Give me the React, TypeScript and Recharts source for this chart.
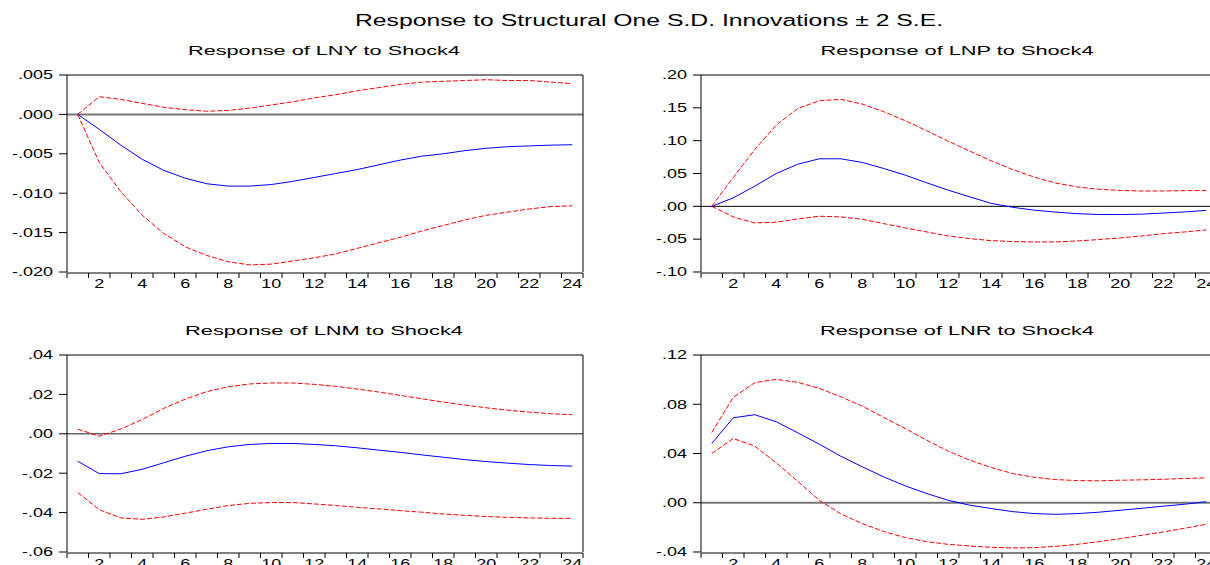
import React from 'react';
import { LineChart, Line, XAxis, YAxis, ReferenceLine } from 'recharts';

// ---------- data ----------
const periods = [1, 2, 3, 4, 5, 6, 7, 8, 9, 10, 11, 12, 13, 14, 15, 16, 17, 18, 19, 20, 21, 22, 23, 24];
const boundaryTicks = [0.5, 1.5, 2.5, 3.5, 4.5, 5.5, 6.5, 7.5, 8.5, 9.5, 10.5, 11.5, 12.5, 13.5, 14.5, 15.5, 16.5, 17.5, 18.5, 19.5, 20.5, 21.5, 22.5, 23.5, 24.5];
const xLabelTicks = [2, 4, 6, 8, 10, 12, 14, 16, 18, 20, 22, 24];

const lnyResp = [0, -0.0019, -0.0039, -0.0057, -0.0071, -0.0081, -0.0088, -0.0091, -0.0091, -0.0089, -0.0085, -0.008, -0.0075, -0.007, -0.0064, -0.0058, -0.0053, -0.005, -0.0046, -0.0043, -0.0041, -0.004, -0.0039, -0.00385];
const lnyUpper = [0, 0.00225, 0.0019, 0.0014, 0.0009, 0.0006, 0.0004, 0.0005, 0.0008, 0.0012, 0.0016, 0.0021, 0.0025, 0.003, 0.0034, 0.0038, 0.0041, 0.0042, 0.0043, 0.0044, 0.0043, 0.0043, 0.0041, 0.0039];
const lnyLower = [0, -0.0061, -0.0098, -0.0128, -0.0151, -0.0168, -0.0179, -0.0187, -0.0191, -0.019, -0.0186, -0.0182, -0.0177, -0.017, -0.0163, -0.0156, -0.0148, -0.0141, -0.0134, -0.0128, -0.0124, -0.012, -0.0117, -0.0116];
const lnyTicks = [-0.02, -0.015, -0.01, -0.005, 0, 0.005];

const lnpResp = [0, 0.0129, 0.0307, 0.05, 0.0642, 0.0724, 0.0724, 0.0668, 0.0576, 0.0475, 0.0358, 0.0246, 0.0144, 0.0045, -0.0015, -0.0058, -0.0088, -0.0112, -0.0124, -0.0125, -0.0119, -0.0102, -0.0085, -0.0062];
const lnpUpper = [0, 0.0439, 0.0866, 0.1237, 0.149, 0.1608, 0.1629, 0.1558, 0.1441, 0.1303, 0.1151, 0.0993, 0.0841, 0.0693, 0.056, 0.0445, 0.0355, 0.0295, 0.026, 0.0242, 0.0233, 0.0234, 0.0239, 0.0241];
const lnpLower = [0, -0.0161, -0.0253, -0.0242, -0.0192, -0.0151, -0.0161, -0.0197, -0.0263, -0.0329, -0.039, -0.0451, -0.0492, -0.0522, -0.0537, -0.0542, -0.0542, -0.0527, -0.0506, -0.0481, -0.0451, -0.0415, -0.039, -0.0359];
const lnpTicks = [-0.1, -0.05, 0, 0.05, 0.1, 0.15, 0.2];

const lnmResp = [-0.0139, -0.0202, -0.0203, -0.018, -0.0147, -0.0114, -0.0086, -0.0066, -0.0054, -0.0049, -0.0049, -0.0054, -0.0061, -0.0071, -0.0083, -0.0094, -0.0107, -0.0119, -0.0131, -0.0141, -0.0149, -0.0156, -0.0161, -0.0164];
const lnmUpper = [0.0024, -0.0012, 0.0024, 0.0073, 0.0129, 0.0176, 0.0214, 0.0239, 0.0253, 0.0258, 0.0258, 0.0251, 0.0241, 0.0227, 0.0212, 0.0195, 0.0178, 0.0161, 0.0146, 0.0132, 0.012, 0.011, 0.0102, 0.0097];
const lnmLower = [-0.0298, -0.0385, -0.0427, -0.0434, -0.0422, -0.0403, -0.0383, -0.0364, -0.0353, -0.0349, -0.0349, -0.0356, -0.0364, -0.0373, -0.0381, -0.039, -0.0398, -0.0407, -0.0414, -0.042, -0.0424, -0.0427, -0.0429, -0.0429];
const lnmTicks = [-0.06, -0.04, -0.02, 0, 0.02, 0.04];

const lnrResp = [0.0481, 0.069, 0.0715, 0.0658, 0.0568, 0.0476, 0.0378, 0.0292, 0.021, 0.0137, 0.0075, 0.002, -0.002, -0.0047, -0.0072, -0.0088, -0.0094, -0.0088, -0.0077, -0.0061, -0.0045, -0.0028, -0.0012, 0.0008];
const lnrUpper = [0.0571, 0.0856, 0.0975, 0.1002, 0.0978, 0.0929, 0.0861, 0.0785, 0.0693, 0.0603, 0.0508, 0.0419, 0.0346, 0.0286, 0.0237, 0.0207, 0.0188, 0.018, 0.0178, 0.0183, 0.0186, 0.0191, 0.0197, 0.0202];
const lnrLower = [0.04, 0.0522, 0.046, 0.0324, 0.0175, 0.002, -0.009, -0.0169, -0.0234, -0.0283, -0.0316, -0.0338, -0.0351, -0.0362, -0.0367, -0.0365, -0.0354, -0.0338, -0.0316, -0.0292, -0.0264, -0.0237, -0.0207, -0.0175];
const lnrTicks = [-0.04, 0, 0.04, 0.08, 0.12];

const mainTitle = 'Response to Structural One S.D. Innovations \u00b1 2 S.E.';
const panelTitles = ['Response of LNY to Shock4', 'Response of LNP to Shock4', 'Response of LNM to Shock4', 'Response of LNR to Shock4'];

// ---------- helpers ----------
const FONT = '"Liberation Sans", Arial, Helvetica, sans-serif';
const SX = 1.5;

function buildRows(resp: number[], upper: number[], lower: number[]) {
  return periods.map((k, i) => ({ k, resp: resp[i], upper: upper[i], lower: lower[i] }));
}

function fmt(v: number, decimals: number) {
  const s = Math.abs(v).toFixed(decimals).replace(/^0/, '');
  return (v < -1e-12 ? '-' : '') + s;
}

const YLabel = (props: any) => {
  const { x, y, payload, decimals } = props;
  return (
    <text transform={`translate(${x},${y}) scale(${SX},1)`} textAnchor="end" dy="0.36em" fontSize={12} fontFamily={FONT} fill="#000">
      {fmt(payload.value, decimals)}
    </text>
  );
};

const XLabel = (props: any) => {
  const { x, y, payload } = props;
  return (
    <text transform={`translate(${x},${y}) scale(${SX},1)`} textAnchor="middle" dy={16} fontSize={12} fontFamily={FONT} fill="#000">
      {String(payload.value)}
    </text>
  );
};

type PanelProps = {
  left: number; top: number; width: number; height: number;
  margin: { top: number; right: number; bottom: number; left: number };
  yWidth: number;
  rows: any[];
  yTicks: number[];
  decimals: number;
  zeroStroke: string;
  zeroWidth: number;
};

function Panel(p: PanelProps) {
  const domain = [p.yTicks[0], p.yTicks[p.yTicks.length - 1]];
  return (
    <div style={{ position: 'absolute', left: p.left, top: p.top }}>
      <LineChart width={p.width} height={p.height} data={p.rows} margin={p.margin}>
        <XAxis xAxisId="t" dataKey="k" type="number" domain={[0.5, 24.5]} ticks={boundaryTicks} interval={0}
          tickFormatter={() => ''} tickSize={5} height={1} stroke="#000" allowDataOverflow />
        <XAxis xAxisId="l" dataKey="k" type="number" domain={[0.5, 24.5]} ticks={xLabelTicks} interval={0}
          tickLine={false} axisLine={false} tickSize={0} tickMargin={0} height={1} tick={<XLabel />} allowDataOverflow />
        <XAxis xAxisId="top" dataKey="k" orientation="top" type="number" domain={[0.5, 24.5]} tick={false} tickLine={false}
          height={1} stroke="#000" allowDataOverflow />
        <YAxis yAxisId="y" type="number" domain={domain} ticks={p.yTicks} interval={0} tickSize={8} tickMargin={6}
          width={p.yWidth} stroke="#000" tick={<YLabel decimals={p.decimals} />} allowDataOverflow />
        <YAxis yAxisId="r" orientation="right" type="number" domain={domain} tick={false} tickLine={false}
          width={1} stroke="#000" allowDataOverflow />
        <ReferenceLine xAxisId="t" yAxisId="y" y={0} stroke={p.zeroStroke} strokeWidth={p.zeroWidth} />
        <Line xAxisId="t" yAxisId="y" type="linear" dataKey="upper" stroke="#ff0000" strokeWidth={1}
          strokeDasharray="5 2" dot={false} isAnimationActive={false} />
        <Line xAxisId="t" yAxisId="y" type="linear" dataKey="lower" stroke="#ff0000" strokeWidth={1}
          strokeDasharray="5 2" dot={false} isAnimationActive={false} />
        <Line xAxisId="t" yAxisId="y" type="linear" dataKey="resp" stroke="#0000ff" strokeWidth={1}
          dot={false} isAnimationActive={false} />
      </LineChart>
    </div>
  );
}

export default function App() {
  const lny = buildRows(lnyResp, lnyUpper, lnyLower);
  const lnp = buildRows(lnpResp, lnpUpper, lnpLower);
  const lnm = buildRows(lnmResp, lnmUpper, lnmLower);
  const lnr = buildRows(lnrResp, lnrUpper, lnrLower);
  return (
    <div style={{ position: 'absolute', left: 0, top: 0, width: 1210, height: 565, overflow: 'hidden', background: '#fff' }}>
      <Panel left={0} top={60} width={600} height={240} margin={{ top: 14, right: 16, bottom: 26, left: 0 }} yWidth={67}
        rows={lny} yTicks={lnyTicks} decimals={3} zeroStroke="#777" zeroWidth={2} />
      <Panel left={600} top={60} width={640} height={240} margin={{ top: 14, right: 22, bottom: 26, left: 0 }} yWidth={101}
        rows={lnp} yTicks={lnpTicks} decimals={2} zeroStroke="#000" zeroWidth={1} />
      <Panel left={0} top={340} width={600} height={240} margin={{ top: 14, right: 16, bottom: 26, left: 0 }} yWidth={67}
        rows={lnm} yTicks={lnmTicks} decimals={2} zeroStroke="#666" zeroWidth={1.5} />
      <Panel left={600} top={340} width={640} height={240} margin={{ top: 14, right: 22, bottom: 26, left: 0 }} yWidth={101}
        rows={lnr} yTicks={lnrTicks} decimals={2} zeroStroke="#777" zeroWidth={2} />
      <svg width={1210} height={565} style={{ position: 'absolute', left: 0, top: 0, pointerEvents: 'none' }}>
        <text x={649} y={26} textAnchor="middle" fontSize={16} fontFamily={FONT} fill="#000" textLength={588} lengthAdjust="spacingAndGlyphs">{mainTitle}</text>
        <text x={324} y={55} textAnchor="middle" fontSize={13} fontFamily={FONT} fill="#000" textLength={272} lengthAdjust="spacingAndGlyphs">{panelTitles[0]}</text>
        <text x={957} y={55} textAnchor="middle" fontSize={13} fontFamily={FONT} fill="#000" textLength={273} lengthAdjust="spacingAndGlyphs">{panelTitles[1]}</text>
        <text x={324} y={335} textAnchor="middle" fontSize={13} fontFamily={FONT} fill="#000" textLength={278} lengthAdjust="spacingAndGlyphs">{panelTitles[2]}</text>
        <text x={957} y={335} textAnchor="middle" fontSize={13} fontFamily={FONT} fill="#000" textLength={274} lengthAdjust="spacingAndGlyphs">{panelTitles[3]}</text>
      </svg>
    </div>
  );
}
